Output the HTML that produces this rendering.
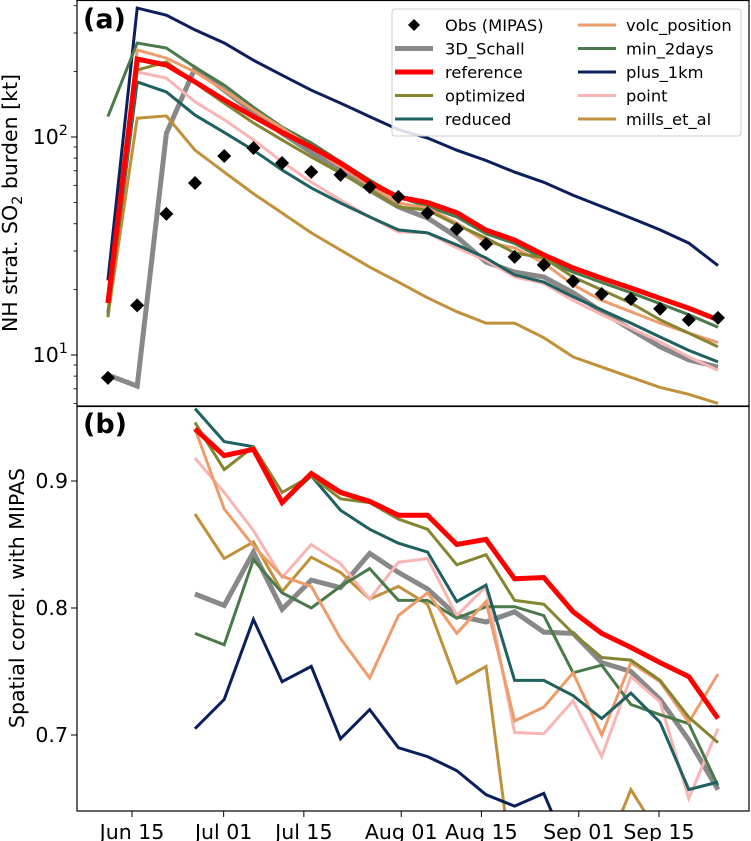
<!DOCTYPE html>
<html><head><meta charset="utf-8"><style>
html,body{margin:0;padding:0;background:#fff;overflow:hidden;}
svg{display:block;}
svg text{font-family:"DejaVu Sans","Liberation Sans",sans-serif;fill:#000;}
</style></head><body>
<svg id="chart" width="751" height="841" viewBox="0 0 751 841" xmlns="http://www.w3.org/2000/svg"></svg>
<script>
// days since Jun 1
const daysA = [9.8,14.9,20.0,25.0,30.1,35.2,40.2,45.3,50.4,55.5,60.5,65.6,70.7,75.8,80.8,85.9,91.0,96.0,101.1,106.2,111.2,116.3];
const daysB = [25.0,30.1,35.2,40.2,45.3,50.4,55.5,60.5,65.6,70.7,75.8,80.8,85.9,91.0,96.0,101.1,106.2,111.2,116.3];
const xTickDays = [14,30,44,61,75,92,106];
const xTickLabels = ["Jun 15","Jul 01","Jul 15","Aug 01","Aug 15","Sep 01","Sep 15"];
const obsA = [7.85,16.9,44.4,61.5,81.8,89.0,76.0,69.1,67.0,59.0,53.1,44.8,37.8,32.3,28.2,25.9,21.8,19.05,18.07,16.3,14.5,14.8];
const schallA = [8.1,7.2,104,207,164,130,104,85,70.6,57,47.8,42.5,34.8,26.7,24.0,22.8,19.3,15.8,13.1,10.9,9.5,8.8];
const referenceA = [17.3,228,214,179,148,124,105,90,76,62,53,50,45,37.4,33.7,28.8,25.1,22.5,20.3,18.2,16.4,14.5];
const optimizedA = [14.9,203,221,177,143,116,97,81,68.4,57.1,47.8,46.2,39.5,34.4,29.4,27.9,22.8,19.9,17.3,14.5,12.6,10.9];
const reducedA = [15.6,179,161,126,105,87,70.6,58.4,49.8,43,37.5,36.3,32.0,27.9,23.3,21.6,18.5,16.1,14.0,12.1,10.5,9.3];
const volcA = [18.5,251,230,199,164,133,110,90,73,60,49.8,47.2,40.3,33,31,26.4,21.0,17.8,15.8,14.0,12.6,11.4];
const min2A = [124,270,256,209,173,137,111,94,77,63.5,53,48,43,36,32.5,27.5,24,21.5,19.3,17.2,15.3,13.4];
const plus1A = [22.0,390,362,310,270,225,192,164,143,124,108,99,87,78,69,62,54,48,42.5,37.5,32.6,25.7];
const pointA = [18.5,199,186,145,120,97,77,62,51.4,43,36.7,36.3,31,27.2,22.8,21.3,17.8,15.3,13.3,11.5,9.8,8.5];
const millsA = [15,122,125,87,69,55,44.8,36.3,30.3,25.3,21.6,18.3,15.8,14.0,14.0,12.0,9.8,8.8,7.9,7.1,6.6,6.0];

const schallB = [.811,.802,.844,.799,.822,.816,.843,.828,.815,.794,.789,.797,.781,.780,.757,.750,.728,.696,.657];
const referenceB = [.941,.920,.925,.883,.906,.891,.884,.873,.873,.850,.854,.823,.824,.797,.780,.769,.757,.746,.713];
const optimizedB = [.946,.909,.927,.891,.904,.886,.883,.870,.862,.834,.842,.806,.803,.780,.761,.759,.743,.714,.694];
const reducedB = [.957,.931,.927,.883,.904,.877,.862,.851,.844,.805,.818,.743,.743,.731,.713,.733,.710,.657,.663];
const volcB = [.941,.878,.849,.825,.817,.776,.745,.794,.812,.780,.805,.711,.722,.749,.700,.757,.742,.710,.748];
const min2B = [.780,.771,.838,.812,.800,.817,.831,.806,.806,.792,.801,.801,.794,.749,.755,.724,.716,.709,.660];
const plus1B = [.705,.728,.791,.742,.754,.697,.720,.690,.683,.672,.653,.644,.654,.60,.58,.56,.54,.52,.50];
const pointB = [.918,.891,.861,.824,.850,.835,.807,.836,.839,.794,.817,.702,.701,.727,.683,.746,.726,.650,.705];
const millsB = [.874,.839,.852,.813,.840,.828,.807,.817,.803,.741,.754,.58,.55,.56,.60,.657,.62,.60,.58];
const yTicksB = [0.7,0.8,0.9];

const NS='http://www.w3.org/2000/svg';
const svg=document.getElementById('chart');
const L=77,R=749,TA=0,BA=406,TB=406,BB=811;
const FS=20.5;
const xs=d=>132+(d-14)*5.728;
const ya=v=>137-(Math.log10(v)-2)*218;
const yb=v=>481-(v-0.9)*1270;
function mk(tag,attrs,parent){const e=document.createElementNS(NS,tag);for(const k in attrs)e.setAttribute(k,attrs[k]);(parent||svg).appendChild(e);return e;}
const defs=mk('defs',{});
const cpA=mk('clipPath',{id:'cpA'},defs);mk('rect',{x:L,y:TA,width:R-L,height:BA-TA},cpA);
const cpB=mk('clipPath',{id:'cpB'},defs);mk('rect',{x:L,y:TB,width:R-L,height:BB-TB},cpB);
const gA=mk('g',{'clip-path':'url(#cpA)'});


const gB=mk('g',{'clip-path':'url(#cpB)'});



const series=[
 ['3d-schall','#888888',5,schallA,schallB],
 ['mills-et-al','#c0913a',3,millsA,millsB],
 ['point','#f9b4b4',3,pointA,pointB],
 ['plus-1km','#0b1f5c',3,plus1A,plus1B],
 ['min-2days','#4a7a4a',3,min2A,min2B],
 ['volc-position','#ee9c6c',3,volcA,volcB],
 ['reduced','#1f6060',3,reducedA,reducedB],
 ['optimized','#858531',3,optimizedA,optimizedB],
 ['reference','#ff0000',5,referenceA,referenceB]
];
function line(g,days,vals,yf,color,w,name){
 const pts=vals.map((v,i)=>xs(days[i]).toFixed(1)+','+yf(v).toFixed(1)).join(' ');
 const p=mk('polyline',{points:pts,fill:'none',stroke:color,'stroke-width':w,'stroke-linejoin':'miter'},g);
 
 
}
series.forEach(s=>{line(gA,daysA,s[3],ya,s[1],s[2],'line-a-'+s[0]);line(gB,daysB,s[4],yb,s[1],s[2],'line-b-'+s[0]);});
obsA.forEach((v,i)=>{const x=xs(daysA[i]),y=ya(v);
 const m=mk('polygon',{points:`${x},${y-7} ${x+7},${y} ${x},${y+7} ${x-7},${y}`,fill:'#000'},gA);
 
 });

// frames
mk('rect',{x:L,y:TA+0.5,width:R-L,height:BA-TA,fill:'none',stroke:'#000','stroke-width':1.2});
mk('rect',{x:L,y:TB,width:R-L,height:BB-TB,fill:'none',stroke:'#000','stroke-width':1.2});
// y ticks A (log)
[1,10,100].forEach(dec=>{for(let k=1;k<10;k++){const v=dec*k;const y=ya(v);if(y<TA||y>BA)continue;
 const major=k===1;mk('line',{x1:L,x2:L-(major?6:3.5),y1:y,y2:y,stroke:'#000','stroke-width':major?1:0.8});
 if(major){const t=mk('text',{x:L-9,y:y+7,'text-anchor':'end','font-size':FS});t.textContent='10';
  const s=mk('tspan',{dy:-9,'font-size':14.5},t);s.textContent=dec===10?'1':'2';
  
  }}});
// y ticks B
yTicksB.forEach(v=>{const y=yb(v);mk('line',{x1:L,x2:L-6,y1:y,y2:y,stroke:'#000'});
 const t=mk('text',{x:L-9,y:y+7,'text-anchor':'end','font-size':FS});t.textContent=v.toFixed(1);
 
 });
// x ticks
xTickDays.forEach((d,i)=>{const x=xs(d);mk('line',{x1:x,x2:x,y1:BB,y2:BB+6,stroke:'#000'});
 const t=mk('text',{x:x,y:BB+28,'text-anchor':'middle','font-size':FS});t.textContent=xTickLabels[i];
 
 });
// axis titles
const ta=mk('text',{x:0,y:0,'text-anchor':'middle','font-size':FS,transform:'translate(17,203) rotate(-90)'});
ta.innerHTML='NH strat. SO<tspan font-size="14.5" dy="5">2</tspan><tspan dy="-5"> burden [kt]</tspan>';


const tb=mk('text',{x:0,y:0,'text-anchor':'middle','font-size':FS,transform:'translate(24,598) rotate(-90)'});
tb.textContent='Spatial correl. with MIPAS';


const la=mk('text',{x:83,y:28,'font-size':27,'font-weight':'bold'});la.textContent='(a)';


const lb=mk('text',{x:83,y:433,'font-size':27,'font-weight':'bold'});lb.textContent='(b)';


// legend
const lg=mk('g',{});


mk('rect',{x:392,y:9,width:349,height:127,rx:3,fill:'rgba(255,255,255,0.85)',stroke:'#ccc'},lg);
const legCol1=[['Obs (MIPAS)',null,0],['3D_Schall','#888888',5],['reference','#ff0000',5],['optimized','#858531',3],['reduced','#1f6060',3]];
const legCol2=[['volc_position','#ee9c6c',3],['min_2days','#4a7a4a',3],['plus_1km','#0b1f5c',3],['point','#f9b4b4',3],['mills_et_al','#c0913a',3]];
[[legCol1,395,445],[legCol2,578,626]].forEach(([col,lx,tx])=>{col.forEach((e,i)=>{const y=23+i*23.5;
 const ge=mk('g',{},lg);
 
 
 if(e[1]){mk('line',{x1:lx,x2:lx+38,y1:y+2,y2:y+2,stroke:e[1],'stroke-width':e[2]},ge);}
 else{const cx=lx+19,cy=y+2;mk('polygon',{points:`${cx},${cy-6} ${cx+6},${cy} ${cx},${cy+6} ${cx-6},${cy}`,fill:'#000'},ge);}
 const t=mk('text',{x:tx,y:y+8,'font-size':16.3},ge);t.textContent=e[0];});});
</script>
</body></html>
